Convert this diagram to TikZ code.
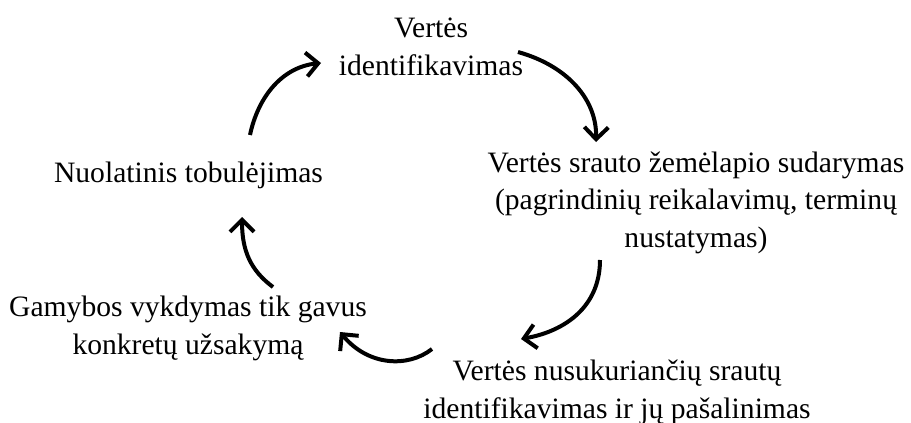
\documentclass[tikz,border=0pt]{standalone}
\usepackage{fontspec}
\setmainfont{Liberation Serif}
\usetikzlibrary{arrows.meta}
\tikzset{
  lbl/.style={align=center, inner sep=0pt, anchor=base, font=\fontsize{29.6}{37.5}\selectfont},
  cyc/.style={line width=4pt, -{Straight Barb[length=12pt,width=24pt]}}
}
\begin{document}
\begin{tikzpicture}[x=1pt,y=-1pt]
\useasboundingbox (0,0) rectangle (911,423);
% base anchor = baseline of the last line
\node[lbl] (top) at (431,75) {Vertės\\identifikavimas};
\node[lbl] (right) at (696,247) {Vertės srauto žemėlapio sudarymas\\(pagrindinių reikalavimų, terminų\\nustatymas)};
\node[lbl] (bottom) at (617,418) {Vertės nusukuriančių srautų\\identifikavimas ir jų pašalinimas};
\node[lbl] (lowleft) at (188,354) {Gamybos vykdymas tik gavus\\konkretų užsakymą};
\node[lbl] (left) at (188.5,182) {Nuolatinis tobulėjimas};
\coordinate (a1s) at (250,135);
\coordinate (a1e) at (321,63);
\coordinate (a2s) at (518,52);
\coordinate (a2e) at (596,142);
\coordinate (a3s) at (600,260);
\coordinate (a3e) at (521,339);
\coordinate (a4s) at (432,349);
\coordinate (a4e) at (340,332);
\coordinate (a5s) at (273,287);
\coordinate (a5e) at (242,217);
\draw[cyc] (a1s) .. controls (258,97) and (282,67) .. (a1e);
\draw[cyc] (a2s) .. controls (568,66) and (597,100) .. (a2e);
\draw[cyc] (a3s) .. controls (600,306) and (566,331) .. (a3e);
\draw[cyc] (a4s) .. controls (408,368) and (368,366) .. (a4e);
\draw[cyc] (a5s) .. controls (250,270) and (242,250) .. (a5e);
\end{tikzpicture}
\end{document}
